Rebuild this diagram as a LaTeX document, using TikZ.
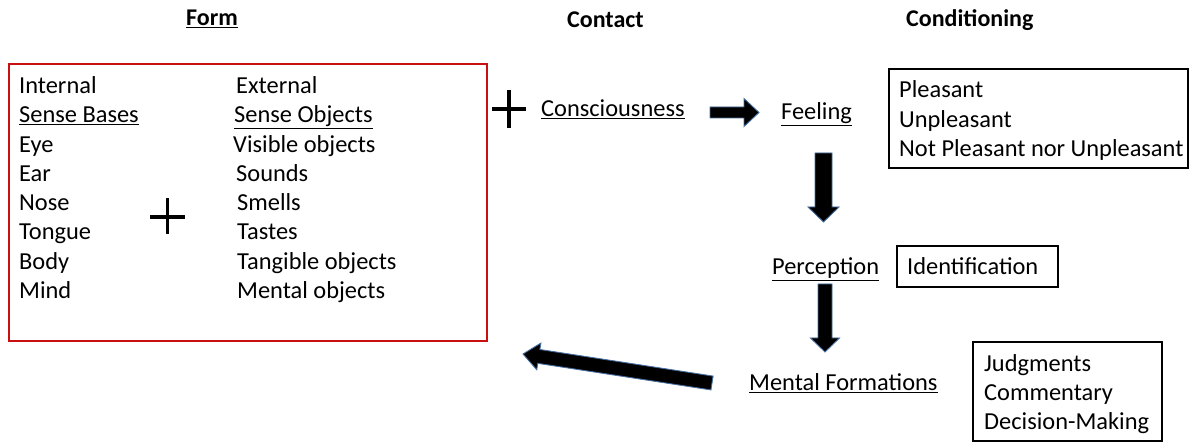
\documentclass[tikz,border=0pt]{standalone}
\usepackage{fontspec}
\setmainfont{Carlito}
\usetikzlibrary{calc}
\definecolor{boxred}{RGB}{200,16,16}
\definecolor{arrowblue}{RGB}{70,110,160}
\tikzset{
  txt/.style={anchor=base west, inner sep=0pt, font=\fontsize{24.4}{29}\selectfont},
  hdr/.style={anchor=base west, inner sep=0pt, font=\fontsize{24}{29}\selectfont\bfseries},
  blkbox/.style={draw=black, line width=1.3pt, fill=none, inner sep=0pt},
  redbox/.style={draw=boxred, line width=1.4pt, inner sep=0pt},
  plus/.style={line width=3.1pt, draw=black},
  blockarr/.style={fill=black, draw=arrowblue, line width=0.9pt, line join=miter}
}
\newcommand\blkarrow[5]{%
  \coordinate (hb) at ($(#2)!#5!(#1)$);
  \path[blockarr] ($(#1)!#3!90:(#2)$) -- ($(hb)!#3!90:(#2)$) -- ($(hb)!#4!90:(#2)$)
    -- (#2) -- ($(hb)!#4!-90:(#2)$) -- ($(hb)!#3!-90:(#2)$) -- ($(#1)!#3!-90:(#2)$) -- cycle;
}
\begin{document}
\begin{tikzpicture}[x=1pt,y=-1pt]
\useasboundingbox (0,0) rectangle (1191,443);
% headers
\node[hdr] (form) at (186,26) {\underline{Form}};
\node[hdr] (contact) at (567,28) {Contact};
\node[hdr] (cond) at (906,27) {Conditioning};
% red box
\node[redbox, minimum width=478pt, minimum height=277pt] (formbox) at (248,202.5) {};
% left column
\node[txt] (internal) at (19,93.5) {Internal};
\node[txt] (bases) at (19,122.8) {\underline{Sense Bases}};
\node[txt] (eye) at (19,152.1) {Eye};
\node[txt] (ear) at (19,181.4) {Ear};
\node[txt] (nose) at (19,210.7) {Nose};
\node[txt] (tongue) at (19,240) {Tongue};
\node[txt] (body) at (19,269.3) {Body};
\node[txt] (mind) at (19,298.6) {Mind};
% right column
\node[txt] (external) at (236,93.5) {External};
\node[txt] (objects) at (234,122.8) {\underline{Sense Objects}};
\node[txt] (visible) at (233,152.1) {Visible objects};
\node[txt] (sounds) at (236,181.4) {Sounds};
\node[txt] (smells) at (237,210.7) {Smells};
\node[txt] (tastes) at (237,240) {Tastes};
\node[txt] (tangible) at (237,269.3) {Tangible objects};
\node[txt] (mental) at (237,298.6) {Mental objects};
% plus signs
\draw[plus] (150,217) -- (185,217) (167.5,198) -- (167.5,234);
\draw[plus] (492,109) -- (526,109) (509,90) -- (509,128);
% middle chain
\node[txt] (consc) at (541,117) {\underline{Consciousness}};
\node[txt] (feeling) at (781,120) {\underline{Feeling}};
\node[txt] (percep) at (772,275) {\underline{Perception}};
\node[txt] (mform) at (749,391) {\underline{Mental Formations}};
% right boxes
\node[blkbox, minimum width=299pt, minimum height=99pt] (feelbox) at (1038.5,118.5) {};
\node[txt] (pleasant) at (899,98) {Pleasant};
\node[txt] (unpleasant) at (899,127.5) {Unpleasant};
\node[txt] (neither) at (899,157) {Not Pleasant nor Unpleasant};
\node[blkbox, minimum width=161pt, minimum height=41pt] (idbox) at (977.5,266.5) {};
\node[txt] (ident) at (907,275) {Identification};
\node[blkbox, minimum width=189pt, minimum height=99pt] (mfbox) at (1067.5,391.5) {};
\node[txt] (judg) at (984,371) {Judgments};
\node[txt] (comm) at (984,400.3) {Commentary};
\node[txt] (dec) at (984,429.6) {Decision-Making};
% block arrows
\coordinate (a1s) at (710,112.5); \coordinate (a1e) at (759,112.5);
\coordinate (a2s) at (823.5,153); \coordinate (a2e) at (823.5,222);
\coordinate (a3s) at (825,284); \coordinate (a3e) at (825,352);
\coordinate (a4s) at (712,383); \coordinate (a4e) at (523,354);
\blkarrow{a1s}{a1e}{5.5pt}{14pt}{15pt}
\blkarrow{a2s}{a2e}{8.5pt}{15.5pt}{15pt}
\blkarrow{a3s}{a3e}{7pt}{14.5pt}{14pt}
\blkarrow{a4s}{a4e}{7pt}{13.5pt}{16pt}
\end{tikzpicture}
\end{document}
